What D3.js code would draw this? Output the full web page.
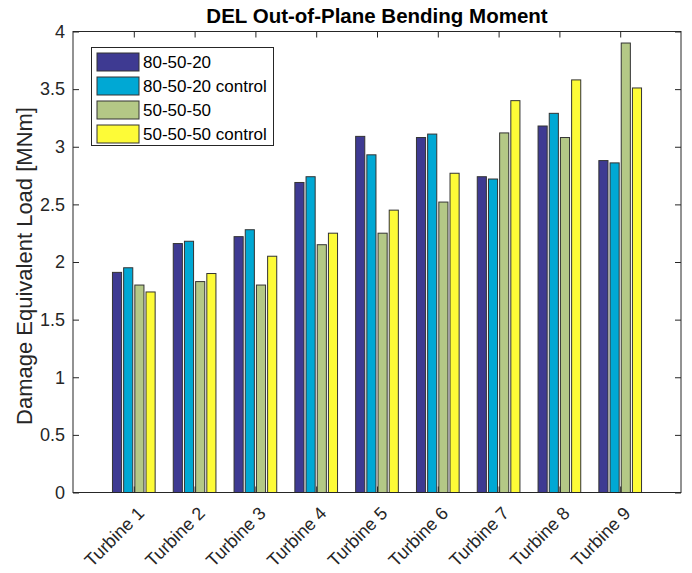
<!DOCTYPE html>
<html><head><meta charset="utf-8">
<script src="https://cdn.jsdelivr.net/npm/d3@7"></script>
<style>body{margin:0;background:#fff}svg{display:block}text{font-family:"Liberation Sans",Arial,sans-serif}</style>
</head><body><svg id="c" width="692" height="573"></svg>
<script>
const categories = ["Turbine 1","Turbine 2","Turbine 3","Turbine 4","Turbine 5","Turbine 6","Turbine 7","Turbine 8","Turbine 9"];
const seriesNames = ["80-50-20","80-50-20 control","50-50-50","50-50-50 control"];
const s8020 = [1.91,2.16,2.22,2.69,3.09,3.08,2.74,3.18,2.88];
const s8020c = [1.95,2.18,2.28,2.74,2.93,3.11,2.72,3.29,2.86];
const s5050 = [1.80,1.83,1.80,2.15,2.25,2.52,3.12,3.08,3.90];
const s5050c = [1.74,1.90,2.05,2.25,2.45,2.77,3.40,3.58,3.51];
const colors = ["#3e3a92","#00a8d4","#b4c886","#fdfb37"];
const yTicks = [0,0.5,1,1.5,2,2.5,3,3.5,4];
const yTickLabels = ["0","0.5","1","1.5","2","2.5","3","3.5","4"];
const series = [s8020,s8020c,s5050,s5050c];

const svg = d3.select("#c");
const L=73, R=681, T=31.5, B=492.5;
const x = d3.scaleLinear().domain([0,10]).range([L,R]);
const y = d3.scaleLinear().domain([0,4]).range([B,T]);
const offs = d3.scaleLinear().domain([0,3]).range([-0.276,0.276]);
const bw = 0.15;
const tickCol="#262626";
const FS = 18;

// bars
series.forEach((s,si)=>{
  svg.append("g").selectAll("rect").data(s).join("rect")
    .attr("x",(d,i)=>x(i+1+offs(si)-bw/2))
    .attr("width",x(bw)-x(0))
    .attr("y",d=>y(d))
    .attr("height",d=>y(0)-y(d))
    .attr("fill",colors[si])
    .attr("stroke","#333").attr("stroke-width",1);
});

// axes box
svg.append("rect").attr("x",L).attr("y",T).attr("width",R-L).attr("height",B-T)
  .attr("fill","none").attr("stroke",tickCol).attr("stroke-width",1);

const yAxis = d3.axisLeft(y).tickValues(yTicks).tickFormat((d,i)=>yTickLabels[i]).tickSizeInner(-6).tickSizeOuter(0).tickPadding(8);
const gy = svg.append("g").attr("transform",`translate(${L},0)`).call(yAxis);
gy.attr("font-size",FS).attr("font-family","Liberation Sans, Arial, sans-serif");
gy.select(".domain").remove();
gy.selectAll("line").attr("stroke",tickCol);
gy.selectAll("text").attr("fill",tickCol);

const gyr = svg.append("g").attr("transform",`translate(${R},0)`).call(d3.axisRight(y).tickValues(yTicks).tickSizeInner(-6).tickSizeOuter(0).tickFormat(""));
gyr.select(".domain").remove(); gyr.selectAll("line").attr("stroke",tickCol);

const xAxis = d3.axisBottom(x).tickValues(d3.range(1,10)).tickFormat((d)=>categories[d-1]).tickSizeInner(-6).tickSizeOuter(0);
const gx = svg.append("g").attr("transform",`translate(0,${B})`).call(xAxis);
gx.attr("font-size",FS).attr("font-family","Liberation Sans, Arial, sans-serif");
gx.select(".domain").remove();
gx.selectAll("line").attr("stroke",tickCol);
gx.selectAll("text").attr("fill",tickCol)
  .attr("text-anchor","end").attr("dy",null).attr("y",0)
  .attr("transform","translate(11,22) rotate(-45)");

const gxt = svg.append("g").attr("transform",`translate(0,${T})`).call(d3.axisTop(x).tickValues(d3.range(1,10)).tickSizeInner(-6).tickSizeOuter(0).tickFormat(""));
gxt.select(".domain").remove(); gxt.selectAll("line").attr("stroke",tickCol);

// title
svg.append("text").attr("x",(L+R)/2).attr("y",23).attr("text-anchor","middle")
  .attr("font-size",20.5).attr("font-weight","bold").attr("fill","#000").text("DEL Out-of-Plane Bending Moment");

// y label
svg.append("text").attr("transform",`translate(32,${(T+B)/2+4}) rotate(-90)`).attr("text-anchor","middle")
  .attr("font-size",22).attr("fill",tickCol).text("Damage Equivalent Load [MNm]");

// legend
const lg = svg.append("g");
lg.append("rect").attr("x",91.5).attr("y",47.5).attr("width",182).attr("height",98).attr("fill","#fff").attr("stroke","#262626").attr("stroke-width",1);
seriesNames.forEach((n,i)=>{
  lg.append("rect").attr("x",97).attr("y",53+i*24).attr("width",42).attr("height",18).attr("fill",colors[i]).attr("stroke","#333");
  lg.append("text").attr("x",143).attr("y",68+i*24).attr("font-size",17).attr("fill","#000").text(n);
});
</script></body></html>
